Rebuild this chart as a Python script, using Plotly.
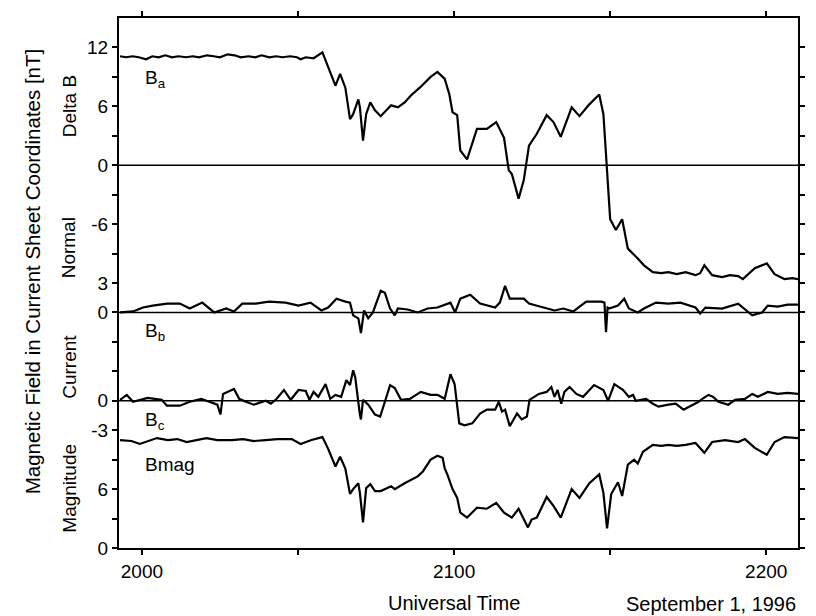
import plotly.graph_objects as go
import numpy as np

# Time in minutes after 20:00 UT, September 1, 1996
x_tick_vals = [0, 60, 120]
x_tick_text = ["2000", "2100", "2200"]
x_minor_vals = [30, 90]

# Panel offsets on the shared vertical scale (nT)
off_delta, off_normal, off_current, off_mag = 39, 24, 15, 0

# Delta B  (B_a)
ba_t = [-4.2, -3.0, -1.8, -0.6, 0.8, 2.0, 3.2, 4.5, 5.8, 7.0, 8.5, 9.8, 11.0, 12.5, 13.8, 15.0,
        16.5, 17.8, 19.0, 20.5, 21.8, 23.0, 24.5, 25.8, 27.0, 28.5, 29.8, 30.5, 31.5, 33.0, 34.7,
        36.4, 37.2, 38.1, 39.1, 40.0, 40.6, 41.6, 41.9, 42.5, 43.1, 43.9, 44.8, 45.9, 47.9, 49.2,
        50.5, 51.7, 53.4, 55.5, 56.8, 57.8, 58.2, 59.1, 59.7, 60.6, 61.2, 62.5, 64.4, 66.3, 68.1,
        69.6, 70.5, 71.1, 72.4, 73.4, 74.4, 75.9, 77.8, 79.1, 80.5, 82.6, 84.1, 86.0, 87.9, 88.7,
        89.2, 89.6, 90.0, 91.1, 92.3, 93.4, 94.6, 95.3, 96.5, 98.2, 99.8, 101.2, 102.8, 104.5,
        106.4, 107.3, 108.1, 109.6, 111.5, 113.0, 114.6, 115.5, 117.8, 120.1, 121.6, 123.5, 125.0, 126.1]
ba_v = [11.1, 11.0, 11.1, 11.0, 10.8, 11.1, 11.0, 11.2, 11.0, 11.1, 11.0, 11.1, 11.0, 11.2, 11.1, 11.0,
        11.3, 11.2, 11.0, 11.1, 11.0, 11.2, 11.0, 11.1, 11.0, 11.1, 11.0, 10.8, 11.0, 10.9, 11.5,
        9.3, 8.1, 9.3, 7.9, 4.7, 5.2, 6.7, 5.9, 2.5, 5.2, 6.4, 5.6, 5.0, 6.1, 5.9,
        6.4, 7.1, 7.9, 9.0, 9.5, 9.0, 8.8, 7.2, 5.4, 5.1, 1.5, 0.6, 3.7, 3.7, 4.4,
        2.8, -0.5, -0.9, -3.4, -1.5, 2.0, 3.2, 5.1, 4.4, 2.9, 5.9, 5.0, 6.2, 7.2, 5.2,
        1.1, -3.0, -5.5, -6.6, -5.5, -8.5, -9.1, -9.5, -10.2, -10.9, -11.0, -10.9, -11.1, -10.9,
        -11.2, -11.0, -10.2, -11.2, -11.4, -11.2, -11.3, -11.6, -10.5, -10.0, -11.1, -11.6, -11.5, -11.6]

# Normal (B_b)
bb_t = [-4.2, -1.7, 0.2, 2.1, 4.8, 7.3, 9.2, 11.6, 13.9, 16.2, 17.7, 19.3, 21.9, 24.4, 27.6,
        30.1, 32.4, 34.5, 35.8, 37.4, 39.1, 40.0, 40.6, 41.6, 42.1, 42.7, 43.5, 44.4, 45.9,
        46.7, 47.7, 48.6, 49.2, 51.1, 53.0, 54.9, 56.8, 59.3, 60.2, 61.2, 63.1, 65.0, 67.9,
        68.8, 69.8, 70.7, 73.4, 74.4, 77.2, 79.3, 81.0, 82.9, 85.4, 88.3, 88.9, 89.2, 89.5,
        89.8, 91.5, 92.7, 93.6, 95.3, 96.5, 98.8, 101.2, 103.5, 106.4, 107.3, 108.3, 111.5,
        114.6, 117.3, 119.2, 120.3, 122.2, 124.1, 126.1]
bb_v = [0.0, 0.1, 0.5, 0.7, 0.9, 0.9, 0.4, 1.0, 0.0, 0.4, 0.1, 0.9, 0.9, 1.1, 1.0,
        0.7, 1.0, 0.2, 0.5, 1.4, 1.1, 1.0, -0.3, -0.6, -2.1, 0.2, -0.6, 0.0, 2.2,
        2.0, 0.4, -0.3, 0.4, 0.3, 0.0, 0.4, 0.5, 1.0, 0.0, 1.4, 1.8, 0.9, 0.5,
        1.0, 2.7, 1.4, 1.4, 0.9, 0.5, 0.2, 0.4, 0.1, 1.1, 1.1, 1.0, -2.0, 0.5,
        0.4, 0.7, 1.4, 0.4, 0.0, 0.4, 1.0, 0.9, 1.0, 0.5, -0.1, 0.5, 0.4,
        0.9, -0.3, 0.0, 0.7, 0.6, 0.8, 0.8]

# Current (B_c)
bc_t = [-4.2, -2.9, -1.7, 1.1, 3.8, 4.8, 7.3, 9.2, 11.4, 13.0, 14.5, 15.1, 15.6, 17.7, 18.7,
        20.0, 21.5, 23.8, 24.8, 25.9, 27.3, 28.6, 30.1, 31.5, 32.2, 33.0, 33.9, 35.3, 36.2,
        37.2, 38.3, 39.3, 40.0, 40.6, 41.0, 41.9, 42.1, 42.5, 43.5, 44.8, 45.8, 46.7, 47.7,
        48.6, 49.8, 51.5, 53.6, 55.5, 56.8, 58.2, 59.3, 60.1, 61.0, 62.0, 63.5, 65.0, 66.3,
        67.9, 68.6, 69.2, 69.8, 70.7, 72.1, 73.0, 74.0, 74.5, 76.3, 77.8, 78.7, 79.3, 79.9,
        80.6, 81.2, 82.2, 83.5, 84.8, 86.9, 88.7, 89.6, 90.8, 92.5, 93.6, 94.4, 94.9, 96.9,
        98.2, 99.3, 101.2, 102.6, 104.1, 105.8, 107.0, 107.7, 108.9, 109.8, 110.8, 112.7,
        114.0, 115.9, 117.3, 118.4, 120.3, 122.2, 124.1, 126.1]
bc_v = [0.1, 0.6, -0.1, 0.3, 0.1, -0.5, -0.5, -0.1, 0.2, -0.1, -0.4, -1.4, 0.7, 1.2, 0.2,
        -0.1, -0.4, 0.0, -0.3, 0.2, 1.1, 0.1, 1.1, 1.0, 0.1, 0.9, 0.4, 1.7, 0.2,
        0.6, 0.4, 2.1, 1.6, 3.1, 2.4, -1.4, -1.9, 0.1, -0.4, -1.4, -1.6, -0.1, 1.6,
        1.3, 0.1, 0.2, 0.9, 0.6, 0.6, 0.2, 2.7, 1.7, -2.3, -2.5, -2.3, -1.3, -0.9,
        -0.9, -0.1, -1.1, -0.9, -2.6, -1.3, -1.9, -1.6, 0.1, 0.7, 0.9, 1.4, 0.4, 1.1,
        -0.3, 0.9, 1.4, 0.7, 0.4, 1.6, 1.1, 0.0, 1.7, 1.1, 0.4, 0.6, 0.0, 0.2,
        -0.3, -0.6, -0.4, -0.3, -0.9, -0.4, -0.1, 0.2, 0.6, 0.4, -0.1, -0.4,
        0.1, 0.2, 0.7, 0.4, 0.9, 0.7, 0.8, 0.7]

# Magnitude (Bmag)
bm_t = [-4.2, -2.0, -0.4, 1.2, 2.9, 5.0, 6.8, 8.6, 10.5, 12.4, 14.5, 17.3, 19.5, 21.5, 23.8,
        26.0, 28.8, 30.5, 32.6, 34.7, 35.8, 37.2, 38.1, 39.1, 40.0, 40.6, 41.6, 41.9, 42.5,
        43.1, 43.9, 44.8, 45.9, 47.9, 48.6, 50.5, 53.0, 54.0, 55.5, 56.8, 57.8, 58.2, 58.7,
        59.7, 60.6, 61.2, 62.5, 64.4, 66.3, 68.1, 69.6, 71.1, 72.4, 73.4, 74.2, 74.9, 75.9,
        77.8, 79.1, 80.5, 82.6, 84.1, 86.0, 87.9, 88.7, 89.4, 90.2, 91.5, 92.3, 93.4, 94.6,
        95.3, 96.3, 98.2, 99.8, 101.2, 102.8, 104.5, 106.4, 108.1, 109.6, 112.1, 114.6,
        115.9, 117.8, 120.1, 121.6, 123.5, 126.1]
bm_v = [11.0, 10.9, 10.6, 10.9, 11.2, 11.0, 11.1, 10.8, 11.0, 11.2, 11.0, 11.0, 11.1, 10.9, 11.0,
        11.1, 11.1, 10.6, 11.0, 11.3, 10.1, 8.3, 9.3, 8.1, 5.5, 6.0, 6.6, 5.6, 2.6,
        6.1, 6.5, 5.8, 5.8, 6.3, 6.0, 6.6, 7.3, 7.8, 9.0, 9.4, 9.2, 8.1, 7.5,
        6.0, 5.1, 3.6, 3.1, 4.1, 4.0, 4.6, 3.6, 3.1, 4.0, 3.0, 2.1, 2.9, 3.1,
        5.2, 4.3, 3.1, 6.0, 5.1, 6.6, 7.5, 5.6, 2.0, 5.5, 6.7, 5.3, 8.5, 9.0,
        8.6, 9.8, 10.5, 10.4, 10.5, 10.4, 10.5, 10.7, 9.7, 10.8, 11.0, 10.8,
        11.1, 10.2, 9.5, 10.8, 11.3, 11.2]

# Shared vertical scale: labelled ticks and their printed values
y_tick_vals = [0, 6, 12, 15, 24, 27, 33, 39, 45, 51]
y_tick_text = ["0", "6", "-3", "0", "0", "3", "-6", "0", "6", "12"]
y_minor_vals = [3, 9, 18, 21, 30, 36, 42, 48]

FONT = "Liberation Sans, Arial, Helvetica, sans-serif"
line_style = dict(color="black", width=2.2)

fig = go.Figure()
for t, v, off in [(ba_t, ba_v, off_delta), (bb_t, bb_v, off_normal),
                  (bc_t, bc_v, off_current), (bm_t, bm_v, off_mag)]:
    fig.add_trace(go.Scatter(x=t, y=np.array(v) + off, mode="lines",
                             line=line_style, hoverinfo="skip"))

for z in [off_delta, off_normal, off_current]:
    fig.add_shape(type="line", xref="paper", x0=0, x1=1, yref="y", y0=z, y1=z,
                  line=dict(color="black", width=1.5))

axis_common = dict(showline=True, linecolor="black", linewidth=2, mirror="ticks",
                   ticks="outside", ticklen=5, tickwidth=1.5, tickcolor="black",
                   showgrid=False, zeroline=False,
                   tickfont=dict(family=FONT, size=19, color="black"))

fig.update_layout(
    width=816, height=616,
    margin=dict(l=119, r=13, t=11, b=68),
    paper_bgcolor="white", plot_bgcolor="white",
    showlegend=False,
    xaxis=dict(range=[-4.4, 126.1], tickvals=x_tick_vals, ticktext=x_tick_text,
               minor=dict(tickvals=x_minor_vals, ticks="outside", ticklen=5, tickwidth=1.5,
                          tickcolor="black", showgrid=False),
               **axis_common),
    yaxis=dict(range=[0, 54], tickvals=y_tick_vals, ticktext=y_tick_text,
               minor=dict(tickvals=y_minor_vals, ticks="outside", ticklen=5, tickwidth=1.5,
                          tickcolor="black", showgrid=False),
               **axis_common),
    font=dict(family=FONT, color="black"),
)

W, H, L, B = 684.0, 537.0, 119.0, 548.0
def px(xp):
    return (xp - L) / W
def py(yp):
    return (B - yp) / H

side_labels = [("Delta B", 100), ("Normal", 244), ("Current", 364), ("Magnitude", 487.5)]
for txt, yc in side_labels:
    fig.add_annotation(text=txt, xref="paper", yref="paper", x=px(69), y=py(yc),
                       textangle=-90, showarrow=False, xanchor="center", yanchor="middle",
                       font=dict(family=FONT, size=19, color="black"))

fig.add_annotation(text="Magnetic Field in Current Sheet Coordinates [nT]",
                   xref="paper", yref="paper", x=px(32), y=py(268), textangle=-90,
                   showarrow=False, xanchor="center", yanchor="middle",
                   font=dict(family=FONT, size=20.5, color="black"))

panel_labels = [("B<sub>a</sub>", 73), ("B<sub>b</sub>", 329), ("B<sub>c</sub>", 419), ("Bmag", 463)]
for txt, yc in panel_labels:
    fig.add_annotation(text=txt, xref="paper", yref="paper", x=px(143), y=py(yc),
                       showarrow=False, xanchor="left", yanchor="middle",
                       font=dict(family=FONT, size=19, color="black"))

fig.add_annotation(text="Universal Time", xref="paper", yref="paper", x=px(456), y=py(604),
                   showarrow=False, xanchor="center", yanchor="middle",
                   font=dict(family=FONT, size=20, color="black"))
fig.add_annotation(text="September 1, 1996", xref="paper", yref="paper", x=1.0, y=py(605),
                   showarrow=False, xanchor="right", yanchor="middle",
                   font=dict(family=FONT, size=20, color="black"))

fig.write_html("out.html")
